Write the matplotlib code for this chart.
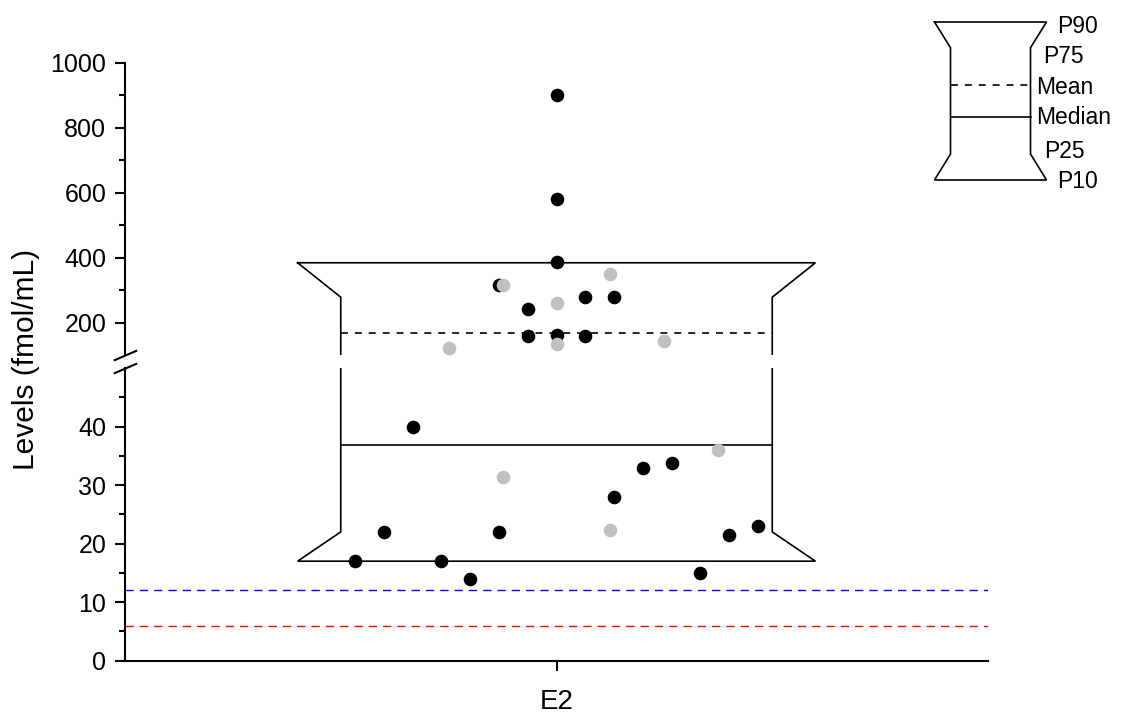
import matplotlib
matplotlib.use('Agg')
import matplotlib.pyplot as plt
from matplotlib.ticker import FixedLocator

plt.rcParams['font.family'] = ['Liberation Sans', 'DejaVu Sans']
plt.rcParams['lines.scale_dashes'] = False

# ---------------- data ----------------
categories = ['E2']
black_values = [900, 580, 385, 316, 279, 278, 242, 159, 163, 159,
                40, 22, 17, 17, 14, 22, 28, 33, 33.7, 15, 21.5, 23]
black_offsets = [0, 0, 0, -0.133, 0.067, 0.133, -0.067, -0.067, 0, 0.067,
                 -0.333, -0.4, -0.467, -0.267, -0.2, -0.133, 0.133, 0.2, 0.267, 0.333, 0.4, 0.467]
gray_values = [314, 348, 260, 134.5, 144, 123, 31.4, 22.4, 36]
gray_offsets = [-0.125, 0.125, 0, 0, 0.25, -0.25, -0.125, 0.125, 0.375]
p10, p25, median, mean, p75, p90 = 17, 22, 36.8, 169, 278, 384
ref_blue = 12
ref_red = 6
upper_ticks = [200, 400, 600, 800, 1000]
upper_minor = [300, 500, 700, 900]
lower_ticks = [0, 10, 20, 30, 40]
lower_minor = [5, 15, 25, 35, 45]

# ---------------- figure ----------------
W, H = 1123, 715
fig = plt.figure(figsize=(W / 100, H / 100), dpi=100)

def fig_rect(x0, y0, x1, y1):
    return [x0 / W, 1 - y1 / H, (x1 - x0) / W, (y1 - y0) / H]

ax_up = fig.add_axes(fig_rect(125, 62.7, 988, 355))
ax_lo = fig.add_axes(fig_rect(125, 368, 988, 660.7))

xc = 1.0
inner, outer = 0.5, 0.6
box_x = [xc - outer, xc - inner, xc - inner, xc - outer, xc + outer,
         xc + inner, xc + inner, xc + outer, xc - outer]
box_y = [p90, p75, p25, p10, p10, p25, p75, p90, p90]

for ax in (ax_up, ax_lo):
    ax.plot(box_x, box_y, color='black', lw=1.2, zorder=2, solid_joinstyle='miter')
    ax.plot([xc + o for o in black_offsets], black_values, 'o', color='black',
            markersize=9.8, markeredgewidth=0, zorder=3)
    ax.plot([xc + o for o in gray_offsets], gray_values, 'o', color='#c0c0c0',
            markersize=9.8, markeredgewidth=0, zorder=4)
    ax.set_xlim(0, 2)
    for s in ('top', 'right'):
        ax.spines[s].set_visible(False)
    ax.spines['left'].set_linewidth(1.5)
    ax.spines['bottom'].set_linewidth(1.5)
    ax.tick_params(axis='y', which='major', direction='out', length=7.5, width=1.5,
                   labelsize=18, pad=6)
    ax.tick_params(axis='y', which='minor', direction='out', length=4, width=1.5)

ax_up.plot([xc - inner, xc + inner], [mean, mean], color='black', lw=1.2,
           dashes=(5, 5), zorder=2)
ax_lo.plot([xc - inner, xc + inner], [median, median], color='black', lw=1.2, zorder=2)

ax_lo.axhline(ref_blue, color='#0000ff', lw=1.0, dashes=(6, 4.3), zorder=1)
ax_lo.axhline(ref_red, color='#ff0000', lw=1.0, dashes=(6, 4.3), zorder=1)

ax_up.set_ylim(100, 1000)
ax_up.yaxis.set_major_locator(FixedLocator(upper_ticks))
ax_up.yaxis.set_minor_locator(FixedLocator(upper_minor))
ax_up.spines['bottom'].set_visible(False)
ax_up.set_xticks([])

ax_lo.set_ylim(0, 50)
ax_lo.yaxis.set_major_locator(FixedLocator(lower_ticks))
ax_lo.yaxis.set_minor_locator(FixedLocator(lower_minor))
ax_lo.set_xticks([xc])
ax_lo.set_xticklabels(categories)
ax_lo.tick_params(axis='x', direction='out', length=7.5, width=1.5, labelsize=20, pad=13)

# break marks
brk = dict(marker=[(-1, -0.43), (1, 0.43)], markersize=16.8, linestyle='none',
           color='k', mec='k', mew=1.5, clip_on=False)
ax_up.plot([0], [0], transform=ax_up.transAxes, **brk)
ax_lo.plot([0], [1], transform=ax_lo.transAxes, **brk)

# y label
fig.text(26 / W, 1 - 359 / H, 'Levels (fmol/mL)', rotation=90, fontsize=21.5,
         ha='center', va='center')

# legend glyph
lg = fig.add_axes(fig_rect(920, 0, 1123, 200))
lg.set_xlim(920, 1123)
lg.set_ylim(200, 0)
lg.axis('off')
cx, ho, hi = 990.5, 56, 40
gy = dict(p90=22, p75=47.7, mean=85, median=116.7, p25=154, p10=180)
lg.plot([cx - ho, cx - hi, cx - hi, cx - ho, cx + ho, cx + hi, cx + hi, cx + ho, cx - ho],
        [gy['p90'], gy['p75'], gy['p25'], gy['p10'], gy['p10'], gy['p25'], gy['p75'],
         gy['p90'], gy['p90']], color='black', lw=1.2, solid_joinstyle='miter')
lg.plot([cx - hi, cx + hi], [gy['mean']] * 2, color='black', lw=1.2, dashes=(5, 5))
lg.plot([cx - hi, cx + hi], [gy['median']] * 2, color='black', lw=1.2)
legend_labels = [('P90', 1057, 26.7), ('P75', 1042.7, 56.7), ('Mean', 1036, 88),
                 ('Median', 1036, 118), ('P25', 1044, 151.7), ('P10', 1057, 181.7)]
for t, x, y in legend_labels:
    lg.text(x, y, t, fontsize=16.5, ha='left', va='center')

fig.savefig('out.png', dpi=100)
